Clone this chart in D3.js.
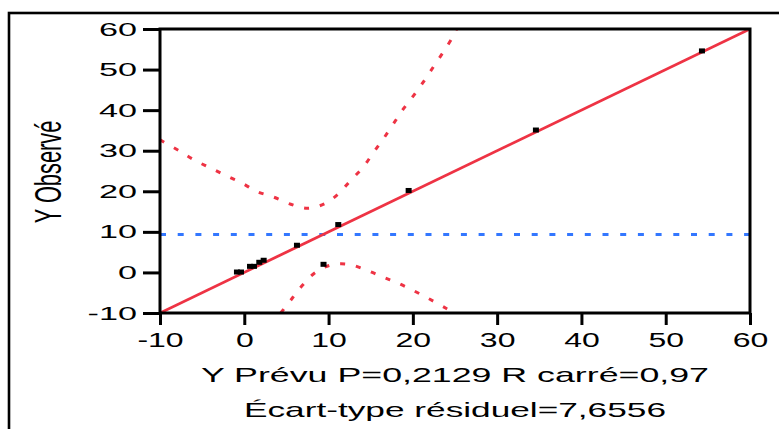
<!DOCTYPE html>
<html>
<head>
<meta charset="utf-8">
<script src="https://cdn.jsdelivr.net/npm/d3@7"></script>
<style>
  body { margin: 0; background: #fff; }
  svg { display: block; }
  text { font-family: "Liberation Sans", Arial, sans-serif; fill: #000; }
</style>
</head>
<body>
<div id="chart"></div>
<script>
// values
const xTicks = [-10, 0, 10, 20, 30, 40, 50, 60];
const yTicks = [-10, 0, 10, 20, 30, 40, 50, 60];

const predicted = [-0.87, -0.39, 0.68, 1.15, 1.78, 2.3, 6.25, 9.4, 11.15, 19.5, 34.6, 54.3];
const observed  = [0.1, 0.1, 1.5, 1.5, 2.5, 3.0, 6.7, 2.0, 11.8, 20.2, 35.1, 54.6];

const fitX = [-10, 60];
const fitY = [-10, 60];
const meanObserved = 9.35;

const upperX = [-10, -9.61, -7.75, -5.93, -4.07, -2.21, -0.27, 1.54, 3.44, 5.51, 7.52, 9.49, 11.24, 12.62, 14.05, 15.31, 16.49, 17.68, 18.87, 20.13, 21.36, 22.51, 23.7, 24.8, 25.3];
const upperY = [32.7, 32.2, 30.0, 27.7, 25.8, 23.9, 22.0, 19.9, 18.6, 16.8, 15.8, 16.9, 19.5, 22.7, 25.8, 29.5, 32.9, 36.6, 40.3, 43.7, 47.3, 50.9, 54.6, 58.3, 60.5];

const lowerX = [4.33, 4.44, 5.62, 6.93, 8.39, 10.29, 12.34, 14.44, 16.37, 18.27, 20.17, 22.03, 23.93, 24.9];
const lowerY = [-10, -9.7, -6.55, -3.1, -0.07, 1.83, 2.0, 0.6, -1.05, -2.68, -4.58, -6.62, -8.84, -10];

const xLabel = "Y Prévu P=0,2129 R carré=0,97";
const xLabel2 = "Écart-type résiduel=7,6556";
const yLabel = "Y Observé";

const width = 779, height = 429;
const margin = {top: 29, right: 29, bottom: 116, left: 160};
const red = "#ee3344", blue = "#3377ff";

const svg = d3.select("#chart").append("svg")
    .attr("width", width)
    .attr("height", height);

// outer frame, runs off the right and bottom edges
svg.append("rect")
    .attr("x", 9).attr("y", 13)
    .attr("width", 800).attr("height", 440)
    .attr("fill", "none").attr("stroke", "#000").attr("stroke-width", 2.6);

const x = d3.scaleLinear().domain([-10, 60]).range([margin.left, width - margin.right]);
const y = d3.scaleLinear().domain([-10, 60]).range([height - margin.bottom, margin.top]);

svg.append("clipPath").attr("id", "plot")
  .append("rect")
    .attr("x", x(-10)).attr("y", y(60))
    .attr("width", x(60) - x(-10)).attr("height", y(-10) - y(60));

const plot = svg.append("g").attr("clip-path", "url(#plot)");

const line = d3.line().x(d => x(d[0])).y(d => y(d[1]));
const curve = d3.line().x(d => x(d[0])).y(d => y(d[1])).curve(d3.curveCatmullRom);

// mean line
plot.append("line")
    .attr("x1", x(-10)).attr("x2", x(60))
    .attr("y1", y(meanObserved)).attr("y2", y(meanObserved))
    .attr("stroke", blue).attr("stroke-width", 3)
    .attr("stroke-dasharray", "6,11.7");

// confidence curves
[[upperX, upperY], [lowerX, lowerY]].forEach(([cx, cy]) => {
  plot.append("path")
      .attr("d", curve(d3.zip(cx, cy)))
      .attr("fill", "none").attr("stroke", red).attr("stroke-width", 3)
      .attr("stroke-dasharray", "5,11");
});

// fit line
plot.append("path")
    .attr("d", line(d3.zip(fitX, fitY)))
    .attr("stroke", red).attr("stroke-width", 2.8).attr("fill", "none");

// points
plot.selectAll("rect.pt")
  .data(d3.zip(predicted, observed))
  .join("rect")
    .attr("class", "pt")
    .attr("x", d => x(d[0]) - 3).attr("y", d => y(d[1]) - 2.5)
    .attr("width", 6).attr("height", 5)
    .attr("fill", "#000");

// axes
const sy = 1.8, sx = 1.6;

const gy = svg.append("g")
    .attr("transform", `translate(${margin.left},0)`)
    .call(d3.axisLeft(y).tickValues(yTicks).tickSize(17).tickSizeOuter(0).tickPadding(6));
gy.select(".domain").remove();
gy.selectAll(".tick line").attr("stroke-width", 3);
gy.selectAll(".tick text")
    .attr("font-size", 19)
    .attr("x", -23 / sy)
    .attr("transform", `scale(${sy},1)`)
    .text(d => d);

const gx = svg.append("g")
    .attr("transform", `translate(0,${height - margin.bottom})`)
    .call(d3.axisBottom(x).tickValues(xTicks).tickSize(12).tickSizeOuter(0).tickPadding(8));
gx.select(".domain").remove();
gx.selectAll(".tick line").attr("stroke-width", 3);
gx.selectAll(".tick text")
    .attr("font-size", 20)
    .attr("transform", `scale(${sx},1)`)
    .text(d => d);

// plot frame
svg.append("rect")
    .attr("x", x(-10)).attr("y", y(60))
    .attr("width", x(60) - x(-10)).attr("height", y(-10) - y(60))
    .attr("fill", "none").attr("stroke", "#000").attr("stroke-width", 3);

// axis titles
const cx = (x(-10) + x(60)) / 2;
svg.append("text")
    .attr("x", cx).attr("y", 382)
    .attr("text-anchor", "middle").attr("font-size", 21)
    .attr("textLength", 508).attr("lengthAdjust", "spacingAndGlyphs")
    .text(xLabel);
svg.append("text")
    .attr("x", cx).attr("y", 417)
    .attr("text-anchor", "middle").attr("font-size", 21)
    .attr("textLength", 422).attr("lengthAdjust", "spacingAndGlyphs")
    .text(xLabel2);

svg.append("text")
    .attr("transform", `translate(61,172) scale(1.67,1) rotate(-90)`)
    .attr("text-anchor", "middle").attr("font-size", 21.8)
    .text(yLabel);
</script>
</body>
</html>
